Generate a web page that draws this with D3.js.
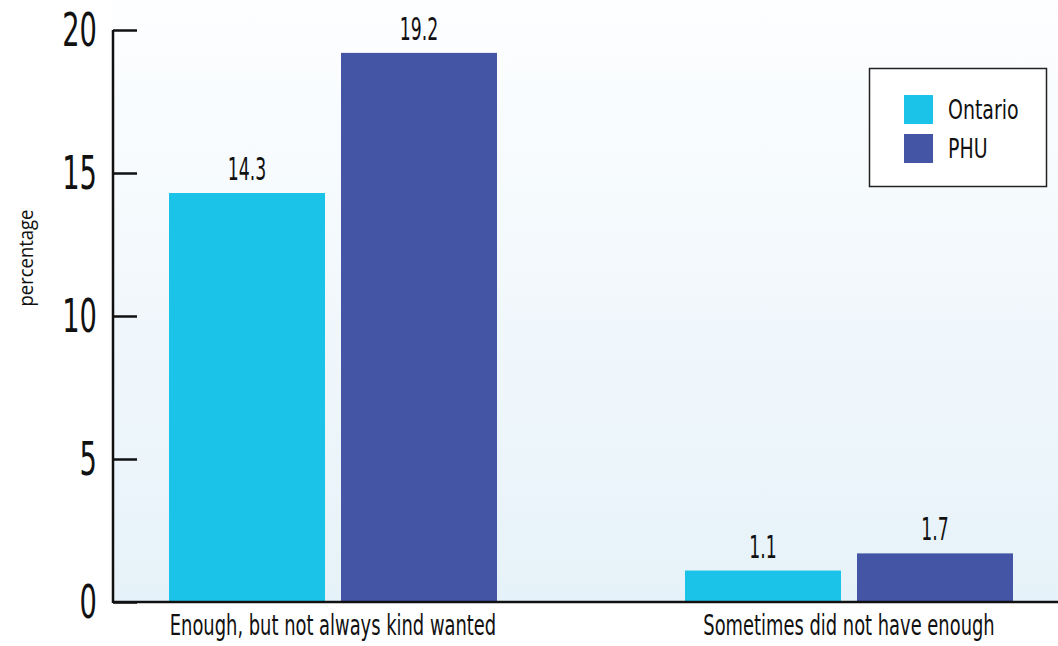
<!DOCTYPE html>
<html>
<head>
<meta charset="utf-8">
<script src="https://cdn.jsdelivr.net/npm/d3@7"></script>
<style>
  html, body { margin: 0; padding: 0; background: #ffffff; }
  svg { display: block; }
  text { font-family: "Liberation Sans Narrow", "DejaVu Sans Condensed", "Arial Narrow", sans-serif; fill: #111; }
</style>
</head>
<body>
<svg id="chart" width="1058" height="646"></svg>
<script>
const categories = ["Enough, but not always kind wanted", "Sometimes did not have enough"];
const seriesNames = ["Ontario", "PHU"];
const ontarioValues = [14.3, 1.1];
const phuValues = [19.2, 1.7];
const yTicks = [0, 5, 10, 15, 20];
const colors = ["#1cc3e8", "#4355a4"];

const W = 1058, H = 646;
const svg = d3.select("#chart");
const axisX = 113, plotBottom = 602, plotTop = 30;

// squeeze text horizontally to imitate the condensed face
function squeeze(sel, k) {
  sel.each(function() {
    const len = this.getComputedTextLength();
    d3.select(this).attr("textLength", len * k).attr("lengthAdjust", "spacingAndGlyphs");
  });
}

// background gradient
const defs = svg.append("defs");
const grad = defs.append("linearGradient").attr("id", "bg").attr("x1", 0).attr("y1", 0).attr("x2", 0).attr("y2", 1);
grad.append("stop").attr("offset", "0%").attr("stop-color", "#fdfeff");
grad.append("stop").attr("offset", "100%").attr("stop-color", "#e6f2f9");
svg.append("rect").attr("x", axisX).attr("y", 0).attr("width", W - axisX).attr("height", plotBottom)
  .attr("fill", "url(#bg)");

const y = d3.scaleLinear().domain([0, 20]).range([plotBottom, plotTop]);
const x0 = d3.scaleBand().domain(categories).range([75, 1107]);
const x1 = d3.scaleBand().domain(seriesNames).range([94, 422]).paddingInner(0.093);

const data = categories.map((c, i) => ({
  cat: c,
  vals: [{s: seriesNames[0], v: ontarioValues[i]}, {s: seriesNames[1], v: phuValues[i]}]
}));

const groups = svg.append("g").selectAll("g").data(data).join("g")
  .attr("transform", d => `translate(${x0(d.cat)},0)`);

groups.selectAll("rect").data(d => d.vals).join("rect")
  .attr("x", d => x1(d.s))
  .attr("y", d => y(d.v))
  .attr("width", x1.bandwidth())
  .attr("height", d => y(0) - y(d.v))
  .attr("fill", (d, i) => colors[i]);

const vl = groups.selectAll("text.val").data(d => d.vals).join("text")
  .attr("class", "val")
  .attr("x", d => x1(d.s) + x1.bandwidth() / 2)
  .attr("y", d => y(d.v) - 13)
  .attr("text-anchor", "middle")
  .style("font-size", "32px")
  .text(d => d.v.toFixed(1));
squeeze(vl, 0.6);

// Y axis
const yAxis = d3.axisRight(y).tickValues(yTicks).tickSize(24).tickFormat("");
const ya = svg.append("g").attr("transform", `translate(${axisX},0)`).call(yAxis);
ya.select(".domain").remove();
ya.selectAll(".tick line").attr("stroke", "#111").attr("stroke-width", 2.5);
svg.append("line").attr("x1", axisX).attr("x2", axisX).attr("y1", plotTop).attr("y2", plotBottom + 1)
  .attr("stroke", "#111").attr("stroke-width", 2.5);

const tl = svg.append("g").selectAll("text").data(yTicks).join("text")
  .attr("x", 97).attr("y", d => y(d) + 16)
  .attr("text-anchor", "end")
  .style("font-size", "46px")
  .text(d => d);
squeeze(tl, 0.66);

// X axis
const xAxis = d3.axisBottom(x0).tickSize(0).tickFormat("");
const xa = svg.append("g").attr("transform", `translate(0,${plotBottom})`).call(xAxis);
xa.select(".domain").remove();
svg.append("line").attr("x1", axisX).attr("x2", W).attr("y1", plotBottom).attr("y2", plotBottom)
  .attr("stroke", "#111").attr("stroke-width", 2.5);

const cl = svg.append("g").selectAll("text").data(categories).join("text")
  .attr("x", d => x0(d) + x0.bandwidth() / 2)
  .attr("y", 635)
  .attr("text-anchor", "middle")
  .style("font-size", "28px")
  .text(d => d);
squeeze(cl, 0.71);

// Y label
const yl = svg.append("text")
  .attr("transform", "translate(33,258) rotate(-90)")
  .attr("text-anchor", "middle")
  .style("font-family", "'Open Sans', 'DejaVu Sans', sans-serif")
  .style("font-size", "20px")
  .text("percentage");
yl.attr("textLength", 97).attr("lengthAdjust", "spacingAndGlyphs");

// Legend
const lg = svg.append("g");
lg.append("rect").attr("x", 869.5).attr("y", 68.5).attr("width", 177).attr("height", 118)
  .attr("fill", "#ffffff").attr("stroke", "#222").attr("stroke-width", 1.5);
const li = lg.selectAll("g").data(seriesNames).join("g")
  .attr("transform", (d, i) => `translate(904,${95 + i * 39})`);
li.append("rect").attr("width", 29).attr("height", 29).attr("fill", (d, i) => colors[i]);
const lt = li.append("text").attr("x", 44).attr("y", 24).style("font-size", "27px").text(d => d);
squeeze(lt, 0.78);
</script>
</body>
</html>
